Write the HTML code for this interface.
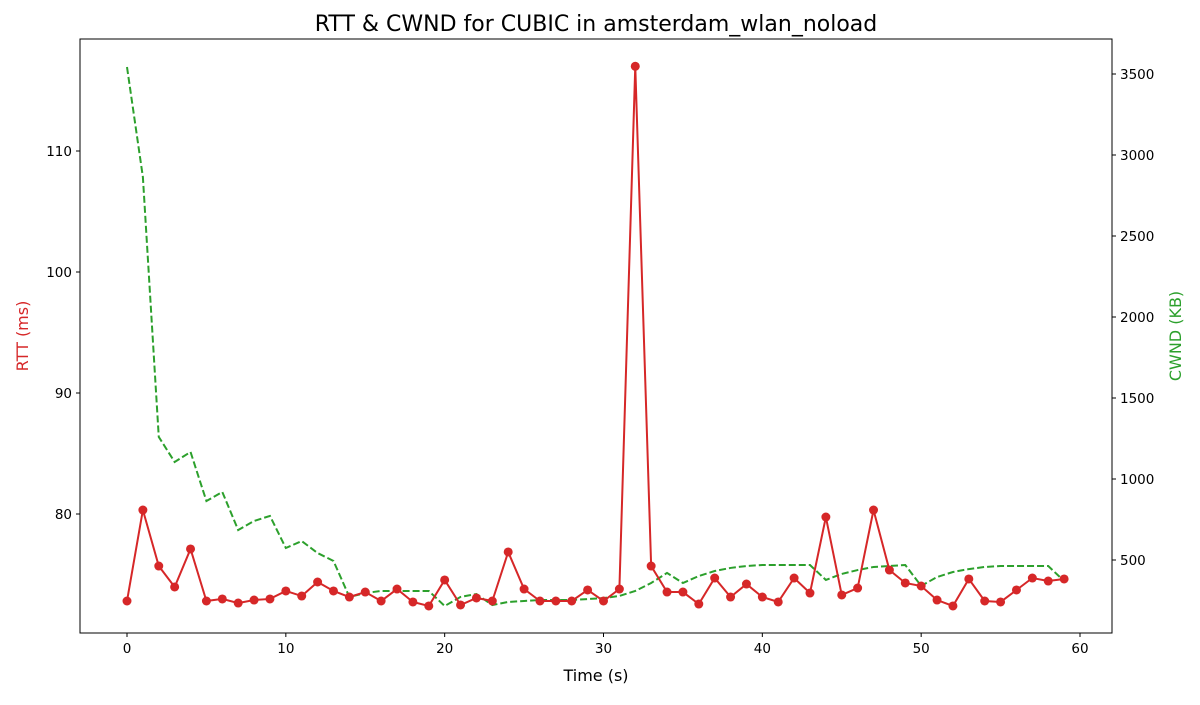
<!DOCTYPE html>
<html><head><meta charset="utf-8"><style>
body{margin:0;background:#fff}
svg text{font-family:"DejaVu Sans","Liberation Sans",sans-serif}
</style></head><body>
<svg id="chart" width="1200" height="700" xmlns="http://www.w3.org/2000/svg">
<text x="596" y="31" text-anchor="middle" font-size="22">RTT &amp; CWND for CUBIC in amsterdam_wlan_noload</text>
<g id="axes"></g>
<g id="series"></g>
<rect x="80" y="39" width="1032" height="594" fill="none" stroke="#000" stroke-width="1"/>
<text x="596" y="681" text-anchor="middle" font-size="16">Time (s)</text>
<text transform="translate(28,336) rotate(-90)" text-anchor="middle" font-size="16" fill="#d62728">RTT (ms)</text>
<text transform="translate(1181,336) rotate(-90)" text-anchor="middle" font-size="16" fill="#2ca02c">CWND (KB)</text>
</svg>
<script>
const times=[0,1,2,3,4,5,6,7,8,9,10,11,12,13,14,15,16,17,18,19,20,21,22,23,24,25,26,27,28,29,30,31,32,33,34,35,36,37,38,39,40,41,42,43,44,45,46,47,48,49,50,51,52,53,54,55,56,57,58,59];
const rtt=[72.81,80.33,75.70,73.97,77.11,72.81,72.98,72.64,72.89,72.98,73.64,73.22,74.38,73.64,73.14,73.55,72.81,73.80,72.73,72.40,74.55,72.48,73.06,72.81,76.86,73.80,72.81,72.81,72.81,73.72,72.81,73.80,117.0,75.70,73.55,73.55,72.56,74.71,73.14,74.21,73.14,72.73,74.71,73.47,79.75,73.31,73.88,80.33,75.37,74.30,74.05,72.89,72.40,74.63,72.81,72.73,73.72,74.71,74.46,74.63];
const cwnd=[3543,2864,1260,1105,1167,864,920,685,741,772,574,617,543,494,272,296,309,309,309,309,216,272,290,222,241,247,253,253,253,259,265,278,309,358,420,358,401,432,451,463,469,469,469,469,377,414,438,457,463,469,340,395,426,444,457,463,463,463,463,370];
const xTicks=[0,10,20,30,40,50,60];
const rttTicks=[80,90,100,110];
const cwndTicks=[500,1000,1500,2000,2500,3000,3500];
const NS="http://www.w3.org/2000/svg";
const xs=t=>127+(t-0)*(1080-127)/60;
const yl=v=>514-(v-80)*(514-151)/30;
const yr=v=>560-(v-500)*(560-74)/3000;
const axes=document.getElementById('axes'),ser=document.getElementById('series');
function mk(tag,attrs,parent){const e=document.createElementNS(NS,tag);for(const k in attrs)e.setAttribute(k,attrs[k]);parent.appendChild(e);return e;}
xTicks.forEach(t=>{const x=xs(t);
const l=mk('line',{x1:x,x2:x,y1:633,y2:637,stroke:'#000'},axes);


const tx=mk('text',{x:x,y:653,'text-anchor':'middle','font-size':'13.5'},axes);tx.textContent=t;

});
rttTicks.forEach(v=>{const y=yl(v);
const l=mk('line',{x1:76,x2:80,y1:y,y2:y,stroke:'#000'},axes);


const tx=mk('text',{x:72,y:y+5,'text-anchor':'end','font-size':'13.5'},axes);tx.textContent=v;

});
cwndTicks.forEach(v=>{const y=yr(v);
const l=mk('line',{x1:1112,x2:1116,y1:y,y2:y,stroke:'#000'},axes);


const tx=mk('text',{x:1120,y:y+5,'font-size':'13.5'},axes);tx.textContent=v;

});
const cp=mk('polyline',{points:times.map((t,i)=>xs(t)+','+yr(cwnd[i])).join(' '),fill:'none',stroke:'#2ca02c','stroke-width':2,'stroke-dasharray':'7,3'},ser);


const rp=mk('polyline',{points:times.map((t,i)=>xs(t)+','+yl(rtt[i])).join(' '),fill:'none',stroke:'#d62728','stroke-width':2},ser);


times.forEach((t,i)=>{const c=mk('circle',{cx:xs(t),cy:yl(rtt[i]),r:4.5,fill:'#d62728'},ser);

});
</script>
</body></html>
